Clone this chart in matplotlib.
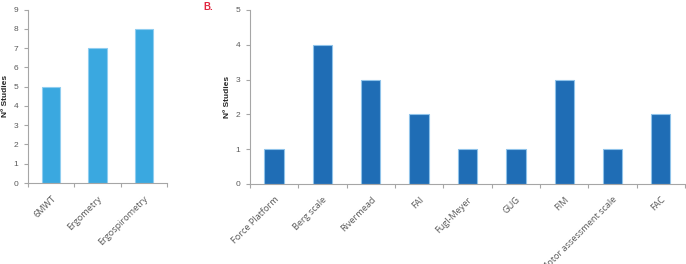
import matplotlib.pyplot as plt
import numpy as np

# Panel A data
cats_a = ['6MWT', 'Ergometry', 'Ergospirometry']
vals_a = [5, 7, 8]

# Panel B data
cats_b = ['Force Platform', 'Berg scale', 'Rivermead', 'FAI', 'Fugl-Meyer',
          'GUG', 'FIM', 'Motor assessment scale', 'FAC']
vals_b = [1, 4, 3, 2, 1, 1, 3, 1, 2]

W, H = 686, 264
fig = plt.figure(figsize=(W / 100, H / 100), dpi=100)

grey = '#a6a6a6'
txt = '#595959'


def panel(rect, cats, vals, ymax, color, edge):
    ax = fig.add_axes(rect)
    x = np.arange(len(cats))
    ax.bar(x, vals, 0.4, color=color, edgecolor=edge, linewidth=0.8, zorder=2)
    ax.set_xlim(-0.5, len(cats) - 0.5)
    ax.set_ylim(0, ymax)
    ax.set_yticks(range(ymax + 1))
    ax.set_xticks(x)
    ax.set_xticklabels(cats, rotation=45, ha='right', rotation_mode='anchor',
                       fontsize=6.6, color=txt, family='Open Sans')
    ax.set_xticks(np.arange(len(cats) + 1) - 0.5, minor=True)
    ax.tick_params(axis='x', which='major', length=0, pad=8)
    ax.tick_params(axis='x', which='minor', length=3, color=grey, width=0.8)
    ax.tick_params(axis='y', length=3, color=grey, width=0.8, pad=4,
                   labelsize=6, labelcolor=txt)
    for lab in ax.get_yticklabels():
        lab.set_family('Liberation Sans')
    for s in ['top', 'right']:
        ax.spines[s].set_visible(False)
    for s in ['left', 'bottom']:
        ax.spines[s].set_color(grey)
        ax.spines[s].set_linewidth(0.8)
    ax.set_ylabel('Nº Studies', fontsize=6, fontweight='bold',
                  family='Liberation Sans', color='#262626')
    return ax


ax1 = panel([28 / W, (H - 183) / H, 139 / W, (183 - 9.5) / H],
            cats_a, vals_a, 9, '#3aa8e0', '#8fcdf0')
ax1.yaxis.set_label_coords(-19 / 139, 0.5)

ax2 = panel([250 / W, (H - 184) / H, 435 / W, (184 - 10) / H],
            cats_b, vals_b, 5, '#1f6db5', '#8fc3ea')
ax2.yaxis.set_label_coords(-19 / 435, 0.5)

fig.text(203 / W, 1 - 7 / H, 'B.', color='#e0263f', fontsize=7,
         fontweight='bold', family='Liberation Sans', va='center', ha='left')

fig.savefig('out.png', dpi=100)
